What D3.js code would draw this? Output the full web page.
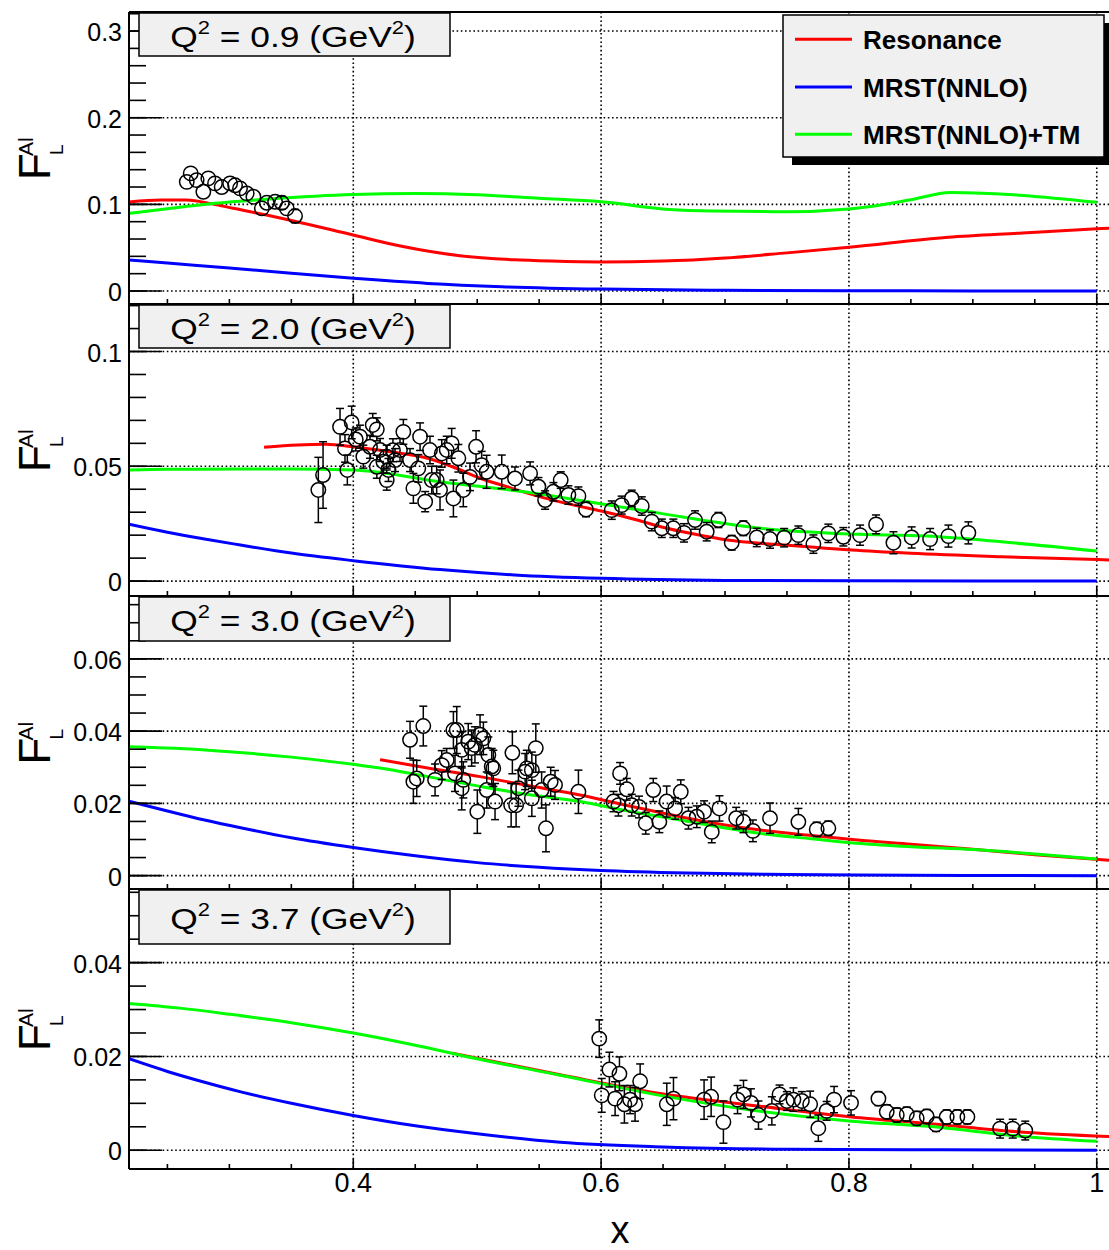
<!DOCTYPE html>
<html><head><meta charset="utf-8">
<script src="https://cdn.jsdelivr.net/npm/d3@7"></script>
<style>
body{margin:0;background:#fff}
svg{display:block}
text{font-family:"Liberation Sans",Arial,Helvetica,sans-serif;fill:#000}
</style></head>
<body><svg id="c" width="1109" height="1250"></svg>
<script>
// ---------------- data ----------------
const q2Values = ["0.9", "2.0", "3.0", "3.7"];
const legendNames = ["Resonance", "MRST(NNLO)", "MRST(NNLO)+TM"];
const xMajorTicks = [0.4, 0.6, 0.8, 1.0];
const xTickLabels = ["0.4", "0.6", "0.8", "1"];
const yMajorTicks = [[0, 0.1, 0.2, 0.3], [0, 0.05, 0.1], [0, 0.02, 0.04, 0.06], [0, 0.02, 0.04]];
const yTickLabels = [["0", "0.1", "0.2", "0.3"], ["0", "0.05", "0.1"], ["0", "0.02", "0.04", "0.06"], ["0", "0.02", "0.04"]];
const yMinorStep = [0.02, 0.01, 0.005, 0.005];
const yDomains = [[-0.015, 0.322], [-0.0065, 0.1207], [-0.0037, 0.0774], [-0.0040, 0.0557]];

// Resonance curves [x, F_L]
const resQ09 = [[0.219,0.1027],[0.245,0.105],[0.265,0.105],[0.287,0.1003],[0.303,0.0954],[0.330,0.0877],[0.351,0.0811],[0.40,0.0646],[0.438,0.0519],[0.486,0.0407],[0.53,0.036],[0.56,0.0345],[0.60,0.0335],[0.65,0.0345],[0.70,0.038],[0.75,0.044],[0.80,0.0504],[0.88,0.062],[0.94,0.067],[1.00,0.0719],[1.012,0.0727]];
const resQ20 = [[0.328,0.0583],[0.355,0.0593],[0.378,0.0596],[0.40,0.0585],[0.43,0.0563],[0.46,0.0535],[0.48,0.0498],[0.503,0.0447],[0.524,0.0411],[0.551,0.0367],[0.578,0.0331],[0.60,0.0305],[0.629,0.0266],[0.648,0.0237],[0.675,0.0205],[0.702,0.0179],[0.74,0.016],[0.772,0.0147],[0.802,0.0135],[0.85,0.0121],[0.923,0.0106],[1.012,0.0092]];
const resQ30 = [[0.4216,0.0321],[0.46,0.0298],[0.5023,0.0274],[0.54,0.025],[0.583,0.0223],[0.62,0.0195],[0.6637,0.0163],[0.70,0.014],[0.7283,0.0126],[0.77,0.0111],[0.809,0.0098],[0.85,0.0087],[0.90,0.0073],[0.95,0.0058],[1.012,0.0042]];
const resQ37 = [[0.48,0.0207],[0.5669,0.0161],[0.6476,0.0121],[0.7283,0.0094],[0.802,0.0071],[0.8634,0.0057],[0.9381,0.0039],[1.012,0.0029]];

// MRST(NNLO) curves
const mrstQ09 = [[0.219,0.0358],[0.25,0.0322],[0.30,0.0266],[0.35,0.0204],[0.40,0.0146],[0.46,0.0088],[0.52,0.0050],[0.60,0.0022],[0.70,0.0008],[0.80,0.0003],[0.90,0.0001],[1.0,0]];
const mrstQ20 = [[0.219,0.0248],[0.25,0.0213],[0.28,0.0183],[0.309,0.0157],[0.35,0.0122],[0.40,0.0089],[0.47,0.0050],[0.53,0.0027],[0.60,0.0012],[0.70,0.0003],[0.80,0.0001],[1.0,0]];
const mrstQ30 = [[0.219,0.0206],[0.25,0.0179],[0.28,0.0154],[0.31,0.0132],[0.35,0.0105],[0.40,0.0078],[0.45,0.0055],[0.50,0.0036],[0.55,0.0023],[0.60,0.0014],[0.67,0.0007],[0.75,0.0003],[0.85,0.0001],[1.0,0]];
const mrstQ37 = [[0.219,0.0195],[0.25,0.0168],[0.28,0.0145],[0.31,0.0124],[0.35,0.0100],[0.40,0.0074],[0.45,0.0052],[0.50,0.0035],[0.567,0.0017],[0.65,0.0007],[0.75,0.0002],[0.85,0.0001],[1.0,0]];

// MRST(NNLO)+TM curves
const tmQ09 = [[0.219,0.0896],[0.25,0.095],[0.287,0.101],[0.33,0.106],[0.40,0.1115],[0.45,0.1125],[0.50,0.111],[0.55,0.107],[0.60,0.103],[0.655,0.0942],[0.69,0.0923],[0.75,0.0915],[0.80,0.0946],[0.849,0.105],[0.882,0.1138],[1.0,0.1023]];
const tmQ20 = [[0.219,0.0484],[0.25,0.0487],[0.309,0.0488],[0.35,0.0488],[0.40,0.0484],[0.47,0.0433],[0.551,0.0379],[0.567,0.0365],[0.632,0.0309],[0.648,0.0295],[0.729,0.023],[0.802,0.0205],[0.863,0.0196],[0.923,0.0171],[1.0,0.0131]];
const tmQ30 = [[0.219,0.0357],[0.26,0.0352],[0.30,0.0343],[0.35,0.0328],[0.40,0.0308],[0.4216,0.0298],[0.46,0.0274],[0.5023,0.0247],[0.54,0.0225],[0.583,0.0205],[0.62,0.018],[0.6637,0.0154],[0.70,0.0132],[0.7283,0.0117],[0.77,0.0102],[0.809,0.0089],[0.85,0.008],[0.90,0.0072],[0.95,0.006],[1.0,0.0046]];
const tmQ37 = [[0.219,0.0313],[0.26,0.0303],[0.30,0.029],[0.35,0.0272],[0.40,0.025],[0.45,0.0224],[0.50,0.0195],[0.5669,0.016],[0.6476,0.0117],[0.7283,0.0083],[0.802,0.0062],[0.8634,0.0051],[0.9381,0.003],[1.0,0.0019]];

// Data points [x, F_L, error]
const dataQ09 = [[0.2656,0.126,0.002],[0.2688,0.1357,0.002],[0.2736,0.128,0.002],[0.279,0.1145,0.002],[0.283,0.130,0.002],[0.2884,0.1242,0.002],[0.2938,0.120,0.002],[0.3006,0.1242,0.002],[0.3046,0.122,0.002],[0.3086,0.1185,0.002],[0.314,0.1127,0.002],[0.3194,0.1088,0.002],[0.3262,0.0954,0.002],[0.3302,0.1018,0.002],[0.3369,0.103,0.003],[0.3423,0.1018,0.0075],[0.3463,0.0954,0.003],[0.353,0.0865,0.0075]];
const dataQ20 = [[0.3718,0.0397,0.0142],[0.3756,0.0462,0.0145],[0.3893,0.0672,0.008],[0.3987,0.0691,0.0071],[0.3933,0.0578,0.006],[0.3952,0.0484,0.0065],[0.402,0.0617,0.005],[0.4054,0.0629,0.005],[0.4081,0.0542,0.005],[0.4135,0.0585,0.005],[0.4157,0.068,0.005],[0.419,0.0661,0.005],[0.4216,0.0571,0.005],[0.419,0.0498,0.005],[0.4243,0.052,0.005],[0.427,0.0542,0.005],[0.4284,0.0484,0.005],[0.427,0.044,0.0044],[0.432,0.057,0.005],[0.4337,0.0527,0.005],[0.4404,0.065,0.0054],[0.4377,0.0571,0.005],[0.4458,0.0527,0.005],[0.4485,0.0404,0.0065],[0.4539,0.0629,0.006],[0.4525,0.0491,0.006],[0.458,0.0346,0.0044],[0.4619,0.0571,0.006],[0.4633,0.044,0.006],[0.4673,0.044,0.006],[0.470,0.0397,0.0087],[0.4714,0.0556,0.006],[0.4754,0.0571,0.006],[0.4794,0.060,0.0065],[0.4808,0.036,0.008],[0.4848,0.0535,0.006],[0.4888,0.0397,0.0073],[0.4942,0.0454,0.006],[0.4991,0.0585,0.007],[0.5036,0.0505,0.006],[0.5076,0.0476,0.0072],[0.5198,0.0476,0.0073],[0.5305,0.0447,0.005],[0.5427,0.0469,0.005],[0.5494,0.0411,0.004],[0.5548,0.0353,0.004],[0.5615,0.0389,0.004],[0.5674,0.044,0.0036],[0.5736,0.0375,0.004],[0.5817,0.037,0.004],[0.5878,0.0312,0.0032],[0.6086,0.0309,0.004],[0.6166,0.0331,0.0039],[0.6247,0.036,0.0036],[0.6328,0.0327,0.004],[0.6409,0.0259,0.004],[0.649,0.023,0.004],[0.6583,0.023,0.004],[0.6669,0.021,0.004],[0.6758,0.0266,0.004],[0.6852,0.0215,0.004],[0.6947,0.0266,0.0033],[0.7054,0.0167,0.0032],[0.7148,0.023,0.0032],[0.7256,0.019,0.004],[0.7363,0.0183,0.004],[0.7477,0.0189,0.004],[0.7592,0.020,0.004],[0.7713,0.0161,0.004],[0.7834,0.0208,0.004],[0.7955,0.0193,0.004],[0.809,0.020,0.0044],[0.8219,0.0247,0.0041],[0.8359,0.0167,0.0048],[0.8506,0.019,0.0046],[0.8655,0.0183,0.0046],[0.8803,0.0196,0.0048],[0.8964,0.021,0.0048]];
const dataQ30 = [[0.4458,0.0376,0.0051],[0.4565,0.0414,0.0055],[0.4485,0.026,0.006],[0.4512,0.0269,0.005],[0.466,0.0265,0.0044],[0.4714,0.0306,0.004],[0.4754,0.032,0.0032],[0.4808,0.0403,0.0051],[0.4835,0.0403,0.0065],[0.4821,0.0283,0.005],[0.4875,0.0242,0.006],[0.4888,0.0265,0.005],[0.4875,0.0348,0.005],[0.4928,0.0371,0.005],[0.4955,0.0353,0.005],[0.4982,0.0362,0.005],[0.5023,0.039,0.0055],[0.505,0.038,0.0045],[0.509,0.0334,0.005],[0.5077,0.0237,0.005],[0.5117,0.0302,0.005],[0.513,0.0297,0.005],[0.5001,0.0177,0.006],[0.5144,0.0205,0.005],[0.5284,0.034,0.0058],[0.5274,0.0195,0.006],[0.5314,0.0195,0.006],[0.5333,0.0242,0.005],[0.5387,0.0288,0.005],[0.54,0.0297,0.005],[0.5441,0.0292,0.005],[0.5441,0.0214,0.005],[0.5473,0.0353,0.0067],[0.552,0.0237,0.005],[0.5555,0.0131,0.0065],[0.5593,0.026,0.004],[0.5628,0.0251,0.004],[0.5817,0.0232,0.006],[0.61,0.0205,0.0028],[0.6153,0.0283,0.003],[0.6207,0.0239,0.003],[0.614,0.0195,0.003],[0.6247,0.0195,0.003],[0.6306,0.019,0.003],[0.636,0.0145,0.003],[0.6421,0.0237,0.0032],[0.647,0.0149,0.003],[0.6529,0.0205,0.0043],[0.6597,0.0186,0.003],[0.6643,0.0232,0.0033],[0.6705,0.0159,0.003],[0.6772,0.0163,0.003],[0.6831,0.0177,0.003],[0.6893,0.0121,0.003],[0.6955,0.0186,0.0035],[0.709,0.0159,0.003],[0.7149,0.0149,0.003],[0.7225,0.0124,0.003],[0.7363,0.0159,0.0042],[0.7592,0.0149,0.0037],[0.774,0.0128,0.002],[0.7834,0.0131,0.002]];
const dataQ37 = [[0.5985,0.0238,0.004],[0.6005,0.0117,0.0036],[0.6067,0.0172,0.0037],[0.6113,0.011,0.0036],[0.6148,0.0163,0.0036],[0.6188,0.0098,0.004],[0.6234,0.0108,0.003],[0.6274,0.0098,0.0036],[0.6315,0.0147,0.0037],[0.653,0.0098,0.0045],[0.6584,0.011,0.0045],[0.6831,0.0108,0.0042],[0.6888,0.0114,0.0042],[0.6987,0.006,0.0045],[0.7101,0.0108,0.003],[0.7149,0.0119,0.003],[0.7209,0.0101,0.003],[0.727,0.0075,0.003],[0.7378,0.0084,0.003],[0.744,0.0119,0.002],[0.7499,0.0105,0.002],[0.7552,0.0108,0.0025],[0.762,0.0105,0.002],[0.7687,0.0098,0.0028],[0.7753,0.0047,0.0028],[0.782,0.0084,0.002],[0.788,0.0108,0.0028],[0.8017,0.0101,0.0026],[0.8238,0.011,0.0015],[0.8305,0.0082,0.0015],[0.8386,0.0075,0.0015],[0.8467,0.0077,0.0015],[0.8547,0.0068,0.0015],[0.8628,0.0072,0.0015],[0.8703,0.0055,0.0015],[0.8789,0.0071,0.0015],[0.8875,0.0071,0.0015],[0.8956,0.0071,0.0015],[0.922,0.0046,0.002],[0.9322,0.0046,0.002],[0.9423,0.0042,0.002]];

const resonance = [resQ09, resQ20, resQ30, resQ37];
const mrst = [mrstQ09, mrstQ20, mrstQ30, mrstQ37];
const mrstTM = [tmQ09, tmQ20, tmQ30, tmQ37];
const points = [dataQ09, dataQ20, dataQ30, dataQ37];

// ---------------- layout ----------------
const svg = d3.select("#c");
const FL = 129, FR = 1112;
const panelTop = [12, 304, 596, 889];
const panelBot = [304, 596, 889, 1169];
const boxH = [43, 43, 44, 54];
const x = d3.scaleLinear().domain([0.219, 1.0123]).range([FL, FR]);
const RED = "#ff0000", BLUE = "#0000ff", GREEN = "#00ff00";
const R = 7.2;

const defs = svg.append("defs");

for (let i = 0; i < 4; i++) {
  const top = panelTop[i], bot = panelBot[i];
  const y = d3.scaleLinear().domain(yDomains[i]).range([bot, top]);
  const g = svg.append("g");
  const cid = "clip" + i;
  defs.append("clipPath").attr("id", cid).append("rect")
    .attr("x", FL).attr("y", top).attr("width", FR - FL).attr("height", bot - top);

  // grid
  const grid = g.append("g").attr("stroke", "#000").attr("stroke-width", 1.6)
    .attr("stroke-dasharray", "1.6,2.6");
  yMajorTicks[i].forEach(v => {
    grid.append("line").attr("x1", FL).attr("x2", FR).attr("y1", y(v)).attr("y2", y(v));
  });
  xMajorTicks.forEach(v => {
    grid.append("line").attr("x1", x(v)).attr("x2", x(v)).attr("y1", top).attr("y2", bot);
  });

  // curves
  const line = d3.line().x(d => x(d[0])).y(d => y(d[1])).curve(d3.curveMonotoneX);
  const cg = g.append("g").attr("clip-path", `url(#${cid})`);
  cg.append("path").attr("d", line(mrst[i])).attr("fill", "none").attr("stroke", BLUE).attr("stroke-width", 3);
  cg.append("path").attr("d", line(resonance[i])).attr("fill", "none").attr("stroke", RED).attr("stroke-width", 3);
  cg.append("path").attr("d", line(mrstTM[i])).attr("fill", "none").attr("stroke", GREEN).attr("stroke-width", 3);

  // points with error bars
  const pg = g.append("g").attr("stroke", "#000").attr("stroke-width", 1.5).attr("fill", "none");
  points[i].forEach(d => {
    const cx = x(d[0]), cy = y(d[1]);
    const ePx = Math.abs(y(d[1] + d[2]) - cy);
    if (ePx > R) {
      pg.append("line").attr("x1", cx).attr("x2", cx).attr("y1", cy - ePx).attr("y2", cy - R);
      pg.append("line").attr("x1", cx).attr("x2", cx).attr("y1", cy + R).attr("y2", cy + ePx);
    }
    if (ePx > R - 1.5) {
      pg.append("line").attr("x1", cx - 4).attr("x2", cx + 4).attr("y1", cy - ePx).attr("y2", cy - ePx);
      pg.append("line").attr("x1", cx - 4).attr("x2", cx + 4).attr("y1", cy + ePx).attr("y2", cy + ePx);
    }
    pg.append("circle").attr("cx", cx).attr("cy", cy).attr("r", R);
  });

  // frame
  const fr = g.append("g").attr("stroke", "#000").attr("stroke-width", 2);
  fr.append("line").attr("x1", FL).attr("x2", FL).attr("y1", top).attr("y2", bot);
  fr.append("line").attr("x1", FL).attr("x2", FR).attr("y1", bot).attr("y2", bot);
  fr.append("line").attr("x1", FL).attr("x2", FR).attr("y1", top).attr("y2", top);

  // y ticks
  const tk = g.append("g").attr("stroke", "#000").attr("stroke-width", 1.6);
  const step = yMinorStep[i];
  const nMin = Math.ceil(yDomains[i][0] / step), nMax = Math.floor(yDomains[i][1] / step);
  for (let k = nMin; k <= nMax; k++) {
    const v = k * step;
    tk.append("line").attr("x1", FL).attr("x2", FL + 17).attr("y1", y(v)).attr("y2", y(v));
  }
  yMajorTicks[i].forEach(v => {
    tk.append("line").attr("x1", FL).attr("x2", FL + 33).attr("y1", y(v)).attr("y2", y(v));
  });
  // x ticks
  for (let k = 5; k <= 20; k++) {
    const v = k * 0.05;
    const major = k % 4 === 0;
    tk.append("line").attr("x1", x(v)).attr("x2", x(v)).attr("y1", bot).attr("y2", bot - (major ? 10 : 5));
  }

  // y tick labels
  yMajorTicks[i].forEach((v, j) => {
    g.append("text").attr("x", 122).attr("y", y(v) + 10).attr("text-anchor", "end")
      .attr("font-size", 25).text(yTickLabels[i][j]);
  });

  // y title F_L^Al
  const cyT = (top + bot) / 2;
  const yt = g.append("g").attr("transform", `translate(50,${cyT + 22}) rotate(-90)`);
  yt.append("text").attr("x", 0).attr("y", 0).attr("font-size", 44).text("F");
  yt.append("text").attr("x", 25).attr("y", 13).attr("font-size", 19).text("L");
  yt.append("text").attr("x", 24).attr("y", -17).attr("font-size", 21).text("Al");

  // Q2 label box
  const bTop = top + 1, bH = boxH[i];
  g.append("rect").attr("x", 139).attr("y", bTop).attr("width", 311).attr("height", bH)
    .attr("fill", "#f0f0f0").attr("stroke", "#000").attr("stroke-width", 1.5);
  const t = g.append("text").attr("transform", `translate(293,${bTop + bH / 2 + 12}) scale(1.22,1)`)
    .attr("text-anchor", "middle").attr("font-size", 29).style("white-space", "pre");
  t.append("tspan").text("Q");
  t.append("tspan").attr("font-size", 18).attr("dy", -13).text("2");
  t.append("tspan").attr("dy", 13).text(" = " + q2Values[i] + " (GeV");
  t.append("tspan").attr("font-size", 18).attr("dy", -13).text("2");
  t.append("tspan").attr("dy", 13).text(")");

  if (i === 3) {
    xMajorTicks.forEach((v, j) => {
      svg.append("text").attr("x", x(v)).attr("y", 1192).attr("text-anchor", "middle")
        .attr("font-size", 27).text(xTickLabels[j]);
    });
    svg.append("text").attr("x", 620).attr("y", 1243).attr("text-anchor", "middle")
      .attr("font-size", 38).text("x");
  }
}

// legend
const lg = svg.append("g");
lg.append("rect").attr("x", 792).attr("y", 23).attr("width", 321).attr("height", 142).attr("fill", "#000");
lg.append("rect").attr("x", 783).attr("y", 15).attr("width", 321).attr("height", 142)
  .attr("fill", "#f0f0f0").attr("stroke", "#000").attr("stroke-width", 1.5);
const legColors = [RED, BLUE, GREEN];
const legY = [39.3, 87, 134.3];
legendNames.forEach((n, j) => {
  lg.append("line").attr("x1", 795).attr("x2", 852).attr("y1", legY[j]).attr("y2", legY[j])
    .attr("stroke", legColors[j]).attr("stroke-width", 3);
  lg.append("text").attr("x", 863).attr("y", legY[j] + 9.5).attr("font-size", 26)
    .attr("font-weight", "bold").text(n);
});
</script>
</body></html>
